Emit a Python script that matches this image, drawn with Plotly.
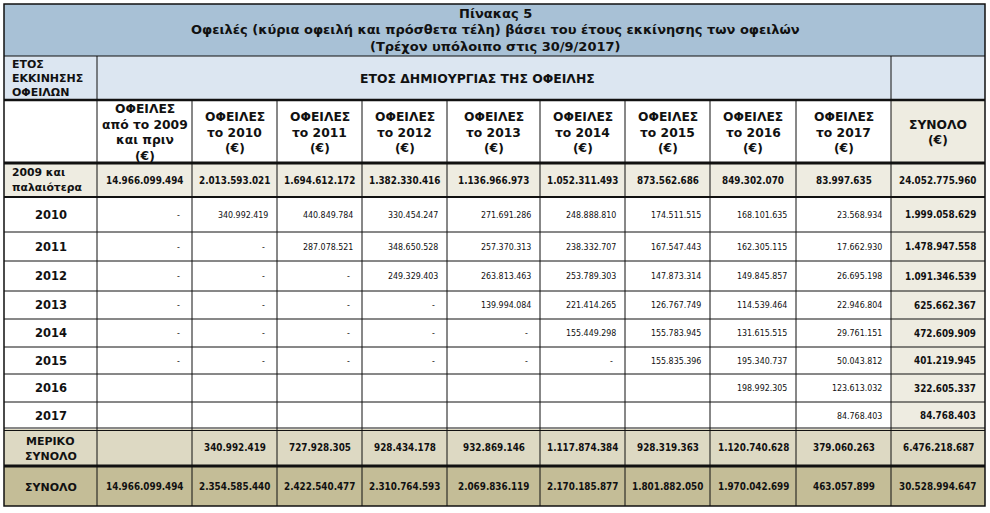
import plotly.graph_objects as go

# ---- data ----
title_lines = [
    "Πίνακας 5",
    "Οφειλές (κύρια οφειλή και πρόσθετα τέλη) βάσει του έτους εκκίνησης των οφειλών",
    "(Τρέχον υπόλοιπο στις 30/9/2017)",
]
row_header = "ΕΤΟΣ<br>ΕΚΚΙΝΗΣΗΣ<br>ΟΦΕΙΛΩΝ"
group_header = "ΕΤΟΣ ΔΗΜΙΟΥΡΓΙΑΣ ΤΗΣ ΟΦΕΙΛΗΣ"
col_headers = [
    "ΟΦΕΙΛΕΣ<br>από το 2009<br>και πριν<br>(€)",
    "ΟΦΕΙΛΕΣ<br>το 2010<br>(€)",
    "ΟΦΕΙΛΕΣ<br>το 2011<br>(€)",
    "ΟΦΕΙΛΕΣ<br>το 2012<br>(€)",
    "ΟΦΕΙΛΕΣ<br>το 2013<br>(€)",
    "ΟΦΕΙΛΕΣ<br>το 2014<br>(€)",
    "ΟΦΕΙΛΕΣ<br>το 2015<br>(€)",
    "ΟΦΕΙΛΕΣ<br>το 2016<br>(€)",
    "ΟΦΕΙΛΕΣ<br>το 2017<br>(€)",
    "ΣΥΝΟΛΟ<br>(€)",
]

# 0 = shown as "-", None = empty cell; last item is the row total
first_label = "2009 και<br>παλαιότερα"
first_row = [14966099494, 2013593021, 1694612172, 1382330416, 1136966973,
             1052311493, 873562686, 849302070, 83997635, 24052775960]

year_labels = ["2010", "2011", "2012", "2013", "2014", "2015", "2016", "2017"]
row_2010 = [0, 340992419, 440849784, 330454247, 271691286, 248888810, 174511515, 168101635, 23568934, 1999058629]
row_2011 = [0, 0, 287078521, 348650528, 257370313, 238332707, 167547443, 162305115, 17662930, 1478947558]
row_2012 = [0, 0, 0, 249329403, 263813463, 253789303, 147873314, 149845857, 26695198, 1091346539]
row_2013 = [0, 0, 0, 0, 139994084, 221414265, 126767749, 114539464, 22946804, 625662367]
row_2014 = [0, 0, 0, 0, 0, 155449298, 155783945, 131615515, 29761151, 472609909]
row_2015 = [0, 0, 0, 0, 0, 0, 155835396, 195340737, 50043812, 401219945]
row_2016 = [None, None, None, None, None, None, None, 198992305, 123613032, 322605337]
row_2017 = [None, None, None, None, None, None, None, None, 84768403, 84768403]
year_rows = [row_2010, row_2011, row_2012, row_2013, row_2014, row_2015, row_2016, row_2017]

partial_label = "ΜΕΡΙΚΟ<br>ΣΥΝΟΛΟ"
partial_row = [None, 340992419, 727928305, 928434178, 932869146, 1117874384,
               928319363, 1120740628, 379060263, 6476218687]
total_label = "ΣΥΝΟΛΟ"
total_row = [14966099494, 2354585440, 2422540477, 2310764593, 2069836119,
             2170185877, 1801882050, 1970042699, 463057899, 30528994647]

# ---- layout of the grid (pixels) ----
col_x = [4, 97, 192, 277, 362, 447, 540, 625, 710, 796, 891, 985]
row_y = [4, 56, 100, 163, 197, 232, 261, 291, 319, 347, 374, 402, 429, 466, 506]

TITLE_BG = "#a8c1d6"
HEAD_BG = "#dce6f1"
BEIGE = "#eeece1"
PARTIAL_BG = "#ddd9c3"
TOTAL_BG = "#c4bd97"
INK = "#111111"
FONT = "DejaVu Sans"
FONT_C = "DejaVu Sans Condensed, Liberation Sans Narrow, DejaVu Sans"


def fmt(v):
    if v is None:
        return ""
    if v == 0:
        return "-"
    return f"{v:,}".replace(",", ".")


fig = go.Figure()
shapes = []
ann = []


def rect(x0, y0, x1, y1, color):
    shapes.append(dict(type="rect", x0=x0, y0=y0, x1=x1, y1=y1, fillcolor=color,
                       line=dict(width=0), layer="below"))


def hline(y, x0, x1, w=1):
    shapes.append(dict(type="line", x0=x0, x1=x1, y0=y, y1=y, line=dict(color=INK, width=w)))


def vline(x, y0, y1, w=1):
    shapes.append(dict(type="line", x0=x, x1=x, y0=y0, y1=y1, line=dict(color=INK, width=w)))


def text(x, y, s, size, bold=True, anchor="center", family=FONT, gap=None):
    # multi-line text: one annotation per line so the line spacing can be set
    lines = s.split("<br>")
    gap = gap or size * 1.25
    y0 = y - gap * (len(lines) - 1) / 2
    for k, line in enumerate(lines):
        ann.append(dict(x=x, y=y0 + k * gap, text=f"<b>{line}</b>" if bold else line,
                        showarrow=False, xanchor=anchor, yanchor="middle",
                        font=dict(family=family, size=size, color=INK)))


L, R = col_x[0], col_x[-1]

# backgrounds
rect(L, row_y[0], R, row_y[1], TITLE_BG)
rect(L, row_y[1], R, row_y[2], HEAD_BG)
rect(col_x[-2], row_y[2], R, row_y[12], BEIGE)
rect(L, row_y[3], R, row_y[4], BEIGE)
rect(L, row_y[12], R, row_y[13], PARTIAL_BG)
rect(L, row_y[13], R, row_y[14], TOTAL_BG)

# title
text(495, 29.5, "<br>".join(title_lines), 13, gap=16.5)

# header rows
text(10, (row_y[1] + row_y[2]) / 2, row_header, 11, anchor="left", gap=14)
text(477, (row_y[1] + row_y[2]) / 2, group_header, 12.4)
for j, h in enumerate(col_headers):
    cx = (col_x[j + 1] + col_x[j + 2]) / 2
    text(cx, 132.5, h, 12.3, gap=15.5)

# first row (bold, centred)
ymid = (row_y[3] + row_y[4]) / 2
text(10, ymid, first_label, 10.8, anchor="left", gap=15)
for j, v in enumerate(first_row):
    cx = (col_x[j + 1] + col_x[j + 2]) / 2
    text(cx, ymid, fmt(v), 9.8, family=FONT_C)

# yearly rows
for i, (lab, vals) in enumerate(zip(year_labels, year_rows)):
    ymid = (row_y[4 + i] + row_y[5 + i]) / 2
    text((col_x[0] + col_x[1]) / 2, ymid, lab, 11.5)
    for j, v in enumerate(vals):
        last = j == len(vals) - 1
        pad = 10 if v == 0 else 7
        text(col_x[j + 2] - pad, ymid, fmt(v), 9.8 if last else 8.8,
             bold=last, anchor="right", family=FONT_C)

# partial and grand totals
for k, (lab, vals) in enumerate([(partial_label, partial_row), (total_label, total_row)]):
    ymid = (row_y[12 + k] + row_y[13 + k]) / 2
    text((col_x[0] + col_x[1]) / 2, ymid + 1, lab, 11, gap=15)
    for j, v in enumerate(vals):
        cx = (col_x[j + 1] + col_x[j + 2]) / 2
        text(cx, ymid, fmt(v), 9.8, family=FONT_C)

# grid lines
hline(row_y[1], L, R)
hline(row_y[2], L, R, 2.5)
hline(row_y[3], L, R, 3)
hline(row_y[4], L, R, 2)
for y in row_y[5:12]:
    hline(y, L, R)
hline(row_y[12] - 1, L, R)
hline(row_y[12] + 1.5, L, R)
hline(row_y[13], L, R, 3)
vline(col_x[1], row_y[1], row_y[2])
vline(col_x[-2], row_y[1], row_y[2])
for x in col_x[1:-1]:
    vline(x, row_y[2], row_y[-1])
shapes.append(dict(type="rect", x0=L, y0=row_y[0], x1=R, y1=row_y[-1],
                   line=dict(color=INK, width=1.5)))

fig.update_layout(
    width=990, height=513,
    margin=dict(l=0, r=0, t=0, b=0),
    paper_bgcolor="white", plot_bgcolor="white",
    xaxis=dict(range=[0, 990], visible=False, fixedrange=True),
    yaxis=dict(range=[513, 0], visible=False, fixedrange=True),
    shapes=shapes, annotations=ann, showlegend=False,
)
fig.write_html("out.html", config={"displayModeBar": False},
               post_script="document.body.style.margin='0';document.body.style.overflow='hidden';")
